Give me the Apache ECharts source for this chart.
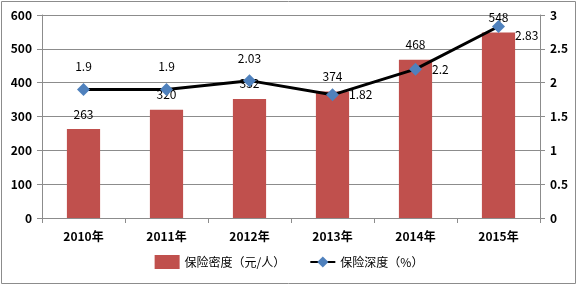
<!DOCTYPE html>
<html>
<head>
<meta charset="utf-8">
<script src="https://cdn.jsdelivr.net/npm/echarts@6/dist/echarts.min.js"></script>
<style>
  html, body { margin: 0; padding: 0; background: #fff; }
  #chart { width: 578px; height: 286px; }
</style>
</head>
<body>
<div id="chart"></div>
<script>
// 数据
const years = ['2010年', '2011年', '2012年', '2013年', '2014年', '2015年'];
const density = [263, 320, 352, 374, 468, 548];       // 保险密度（元/人）
const depth = [1.9, 1.9, 2.03, 1.82, 2.2, 2.83];      // 保险深度（%）
const depthLabelPos = ['top', 'top', 'top', 'right', 'right', 'right'];

const font = '"Noto Sans CJK SC", "DejaVu Sans", sans-serif';
const chart = echarts.init(document.getElementById('chart'));

chart.setOption({
  animation: false,
  textStyle: { fontFamily: font },
  graphic: [{
    type: 'rect',
    shape: { x: 1.5, y: 1.5, width: 574, height: 282 },
    style: { fill: 'none', stroke: '#8c8c8c', lineWidth: 1 }
  }],
  grid: { left: 42, right: 38, top: 15, bottom: 68 },
  legend: {
    bottom: 12,
    left: 'center',
    itemGap: 24,
    textStyle: { fontSize: 12, color: '#000', fontFamily: font },
    data: [
      { name: '保险密度（元/人）', icon: 'rect', itemWidth: 26, itemHeight: 7 },
      { name: '保险深度（%）', itemWidth: 28, itemHeight: 10 }
    ]
  },
  xAxis: {
    type: 'category',
    data: years,
    axisLine: { lineStyle: { color: '#8c8c8c' } },
    axisTick: { show: true, alignWithLabel: false, length: 5, lineStyle: { color: '#8c8c8c' } },
    axisLabel: { color: '#000', fontWeight: 'bold', fontSize: 12, margin: 12 }
  },
  yAxis: [
    {
      type: 'value', min: 0, max: 600, interval: 100,
      axisLine: { show: true, lineStyle: { color: '#8c8c8c' } },
      axisTick: { show: true, length: 5, lineStyle: { color: '#8c8c8c' } },
      axisLabel: { color: '#000', fontWeight: 'bold', fontSize: 12, margin: 10 },
      splitLine: { lineStyle: { color: '#8c8c8c' } }
    },
    {
      type: 'value', min: 0, max: 3, interval: 0.5,
      axisLine: { show: true, lineStyle: { color: '#8c8c8c' } },
      axisTick: { show: true, length: 5, lineStyle: { color: '#8c8c8c' } },
      axisLabel: { color: '#000', fontWeight: 'bold', fontSize: 12, margin: 10 },
      splitLine: { show: false }
    }
  ],
  series: [
    {
      name: '保险密度（元/人）',
      type: 'bar',
      data: density,
      barWidth: '40%',
      itemStyle: { color: '#C0504D' },
      label: { show: true, position: 'top', distance: 9, color: '#000', fontSize: 12 }
    },
    {
      name: '保险深度（%）',
      type: 'line',
      yAxisIndex: 1,
      data: depth.map((v, i) => ({
        value: v,
        label: { position: depthLabelPos[i], offset: i === depth.length - 1 ? [0, 9] : [0, 0] }
      })),
      symbol: 'diamond',
      symbolSize: 13,
      lineStyle: { color: '#000', width: 3 },
      itemStyle: { color: '#4F81BD' },
      z: 5,
      label: { show: true, distance: 10, color: '#000', fontSize: 12 }
    }
  ]
});
</script>
</body>
</html>
